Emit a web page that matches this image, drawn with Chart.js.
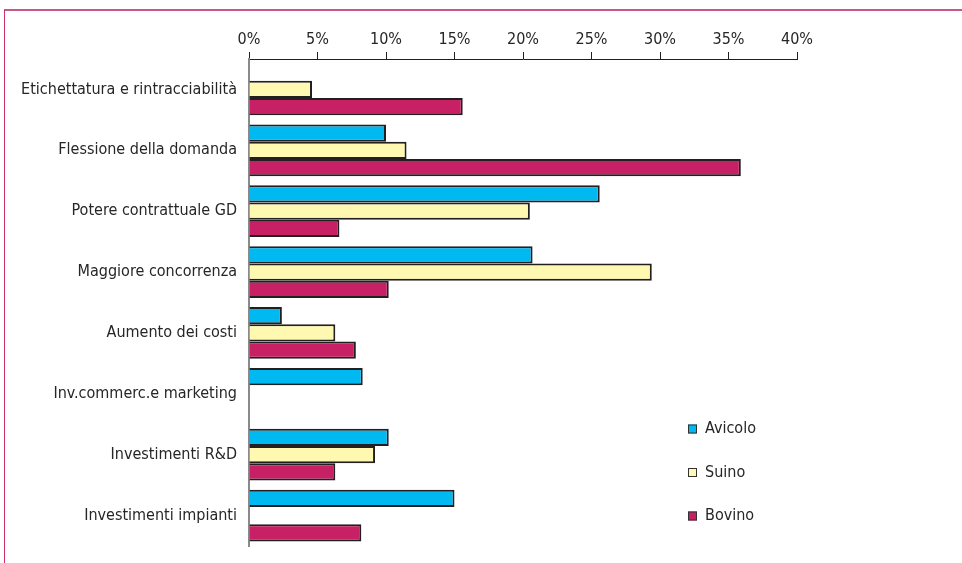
<!DOCTYPE html>
<html>
<head>
<meta charset="utf-8">
<script src="https://cdn.jsdelivr.net/npm/chart.js@4.4.1/dist/chart.umd.min.js"></script>
<style>
  html, body { margin: 0; padding: 0; background: #fff; }
  .wrap { position: relative; width: 962px; height: 563px; }
  .frame {
    position: absolute; left: 4px; top: 9px; right: 0; bottom: 0;
    border-top: 2px solid #c9578a; border-left: 1px solid #c8306e;
  }
  canvas { position: absolute; left: 0; top: 0; }
</style>
</head>
<body>
<div class="wrap">
  <div class="frame"></div>
  <canvas id="barChart" width="962" height="563"></canvas>
</div>
<script>
const categories = [
  "Etichettatura e rintracciabilità",
  "Flessione della domanda",
  "Potere contrattuale GD",
  "Maggiore concorrenza",
  "Aumento dei costi",
  "Inv.commerc.e marketing",
  "Investimenti R&D",
  "Investimenti impianti"
];
const avicolo = [null, 10.0, 25.6, 20.7, 2.4, 8.3, 10.2, 15.0];
const suino   = [4.6, 11.5, 20.5, 29.4, 6.3, null, 9.2, null];
const bovino  = [15.6, 35.9, 6.6, 10.2, 7.8, null, 6.3, 8.2];
const xTicks  = [0, 5, 10, 15, 20, 25, 30, 35, 40];

const FONT = "'DejaVu Sans Condensed', sans-serif";
const TEXT = "#262626";

// legend drawn as a column inside the plot, bottom right
const sideLegend = {
  id: "sideLegend",
  afterDraw(chart) {
    const ctx = chart.ctx;
    const x = 688, y0 = 429, gap = 43.5, box = 9;
    ctx.save();
    ctx.font = "16px " + FONT;
    ctx.textBaseline = "middle";
    chart.data.datasets.forEach((ds, i) => {
      const y = y0 + i * gap;
      ctx.fillStyle = ds.backgroundColor;
      ctx.fillRect(x, y - box / 2, box, box);
      ctx.strokeStyle = "#333";
      ctx.lineWidth = 1;
      ctx.strokeRect(x + 0.5, y - box / 2 + 0.5, box - 1, box - 1);
      ctx.fillStyle = TEXT;
      ctx.fillText(ds.label, x + 17, y);
    });
    ctx.restore();
  }
};

new Chart(document.getElementById("barChart").getContext("2d"), {
  type: "bar",
  data: {
    labels: categories,
    datasets: [
      { label: "Avicolo", data: avicolo, backgroundColor: "#00b9f1" },
      { label: "Suino", data: suino, backgroundColor: "#fff8b0" },
      { label: "Bovino", data: bovino, backgroundColor: "#c82064" }
    ].map(ds => Object.assign(ds, {
      borderColor: "#231f20",
      borderWidth: 2,
      categoryPercentage: 0.85,
      barPercentage: 1.0
    }))
  },
  options: {
    indexAxis: "y",
    responsive: false,
    animation: false,
    layout: { padding: { top: 0, left: 0, right: 165, bottom: 17 } },
    plugins: { legend: { display: false }, tooltip: { enabled: false } },
    scales: {
      x: {
        position: "top",
        min: 0,
        max: 40,
        afterBuildTicks: s => { s.ticks = xTicks.map(v => ({ value: v })); },
        afterFit: s => { s.height = 59; },
        ticks: {
          color: TEXT,
          font: { family: FONT, size: 16 },
          padding: 3,
          callback: v => v + "%"
        },
        grid: { drawOnChartArea: false, color: "#231f20", tickLength: 7, lineWidth: 1 },
        border: { color: "#231f20", width: 1 }
      },
      y: {
        afterFit: s => { s.width = 249; },
        ticks: {
          color: TEXT,
          font: { family: FONT, size: 16 },
          padding: 4,
          autoSkip: false
        },
        grid: { display: false },
        border: { color: "#8a8a8a", width: 2 }
      }
    }
  },
  plugins: [sideLegend]
});
</script>
</body>
</html>
